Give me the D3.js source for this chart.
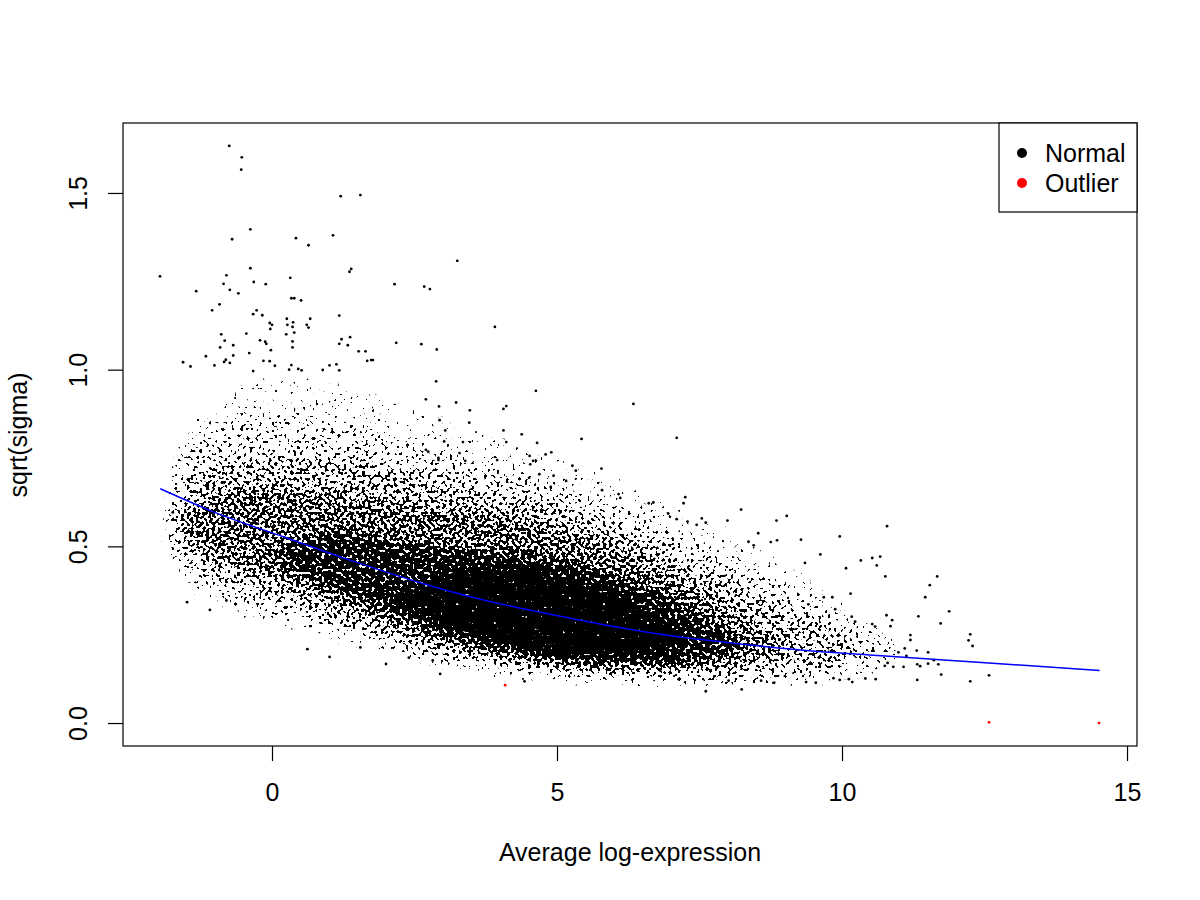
<!DOCTYPE html>
<html lang="en">
<head>
    <meta charset="UTF-8"/>
    <title>sqrt(sigma) vs Average log-expression</title>
    <script src="https://d3js.org/d3.v7.min.js"></script>
    <style>
        body { margin: 0; background: #fff; }
        text { font-family: "Liberation Sans", Arial, Helvetica, sans-serif; fill: #000; font-size: 25px; }
    </style>
</head>
<body>
<script>
    var w = 1200;
    var h = 900;

    // tick values / labels
    var xTicks = [0, 5, 10, 15];
    var yTicks = [0, 0.5, 1, 1.5];
    var yTickLabels = ["0.0", "0.5", "1.0", "1.5"];

    // legend
    var legendLabels = ["Normal", "Outlier"];
    var legendColors = ["#000000", "#ff0000"];

    // fitted trend (blue)
    var trendX = [-1.96, -0.97, 0.20, 1.37, 2.54, 3.71, 4.88, 5.87, 7.04, 8.21, 9.38, 10.55, 11.72, 12.77, 14.52];
    var trendY = [0.663, 0.594, 0.527, 0.461, 0.400, 0.348, 0.308, 0.277, 0.246, 0.224, 0.205, 0.192, 0.179, 0.168, 0.149];

    // outliers (red)
    var outlierX = [4.09, 12.58, 14.51];
    var outlierY = [0.107, 0.002, 0.0];

    // dense cloud read as nested density bands: [x, low, high]
    var band0 = [[-1.9,0.52,0.60],[-1.6,0.38,0.86],[-0.39,0.29,0.98],[0.78,0.26,0.98],[1.95,0.19,0.92],[3.12,0.15,0.85],[4.30,0.125,0.80],[5.88,0.11,0.70],[7.04,0.105,0.62],[8.21,0.105,0.52],[9.39,0.115,0.42],[10.3,0.13,0.32],[11.0,0.17,0.22]];
    var band1 = [[-1.8,0.53,0.60],[-1.56,0.41,0.80],[-0.39,0.31,0.87],[0.78,0.29,0.87],[1.95,0.215,0.82],[3.12,0.17,0.74],[4.30,0.142,0.71],[5.88,0.122,0.62],[7.04,0.122,0.55],[8.21,0.115,0.45],[9.39,0.125,0.35],[10.4,0.15,0.26],[11.0,0.19,0.20]];
    var band2 = [[-1.7,0.55,0.58],[-1.4,0.44,0.73],[-0.39,0.368,0.75],[0.78,0.311,0.75],[1.95,0.255,0.73],[3.12,0.19,0.68],[4.30,0.165,0.66],[5.88,0.145,0.56],[7.04,0.14,0.49],[8.21,0.14,0.38],[9.39,0.155,0.29],[10.2,0.19,0.22]];
    var band3 = [[-1.6,0.56,0.58],[-1.2,0.49,0.64],[-0.39,0.442,0.67],[0.78,0.357,0.65],[1.95,0.292,0.63],[3.12,0.215,0.60],[4.30,0.18,0.59],[5.88,0.155,0.50],[7.04,0.15,0.43],[8.21,0.165,0.30],[8.9,0.21,0.23]];
    var band4 = [[0.0,0.47,0.47],[0.78,0.40,0.55],[1.95,0.32,0.52],[3.12,0.235,0.49],[4.30,0.19,0.49],[5.0,0.17,0.46],[5.88,0.16,0.43],[7.04,0.165,0.35],[7.8,0.19,0.27],[8.3,0.22,0.22]];
    var band5 = [[2.0,0.36,0.36],[3.12,0.25,0.44],[4.30,0.21,0.45],[5.0,0.19,0.42],[5.88,0.18,0.39],[6.8,0.19,0.31],[7.4,0.24,0.24]];
    var bandDensity = [0.04, 0.12, 0.3, 0.55, 0.88, 1.0];

    // individual points outside the dense cloud: [x, y]
    var normalPts = [
        [-0.75,1.633],[-0.53,1.601],[-0.54,1.566],[1.205,1.491],[1.55,1.494],[-0.38,1.397],[-0.70,1.369],[0.42,1.372],[0.64,1.352],[1.07,1.380],
        [-0.38,1.287],[-1.965,1.264],[-1.33,1.222],[-0.80,1.267],[-0.85,1.243],[-0.74,1.226],[-0.59,1.216],[-0.32,1.248],[-0.11,1.242],[0.32,1.26],
        [1.39,1.285],[1.36,1.277],[2.15,1.242],[0.34,1.202],[0.39,1.202],[0.51,1.196],[-0.92,1.185],[-1.05,1.168],[-0.27,1.168],[-0.33,1.157],
        [-0.17,1.154],[0.26,1.144],[0.37,1.134],[0.67,1.144],[1.18,1.153],[-0.04,1.132],[0.0,1.127],[-0.03,1.115],[0.27,1.127],[0.36,1.121],
        [0.61,1.127],[0.64,1.119],[0.25,1.10],[0.39,1.105],[-0.89,1.10],[-0.45,1.102],[-0.83,1.082],[-0.68,1.069],[-0.91,1.063],[-0.21,1.083],
        [-0.12,1.079],[-0.10,1.073],[-0.02,1.055],[0.36,1.08],[0.36,1.063],[1.22,1.086],[1.18,1.073],[1.37,1.092],[1.33,1.069],[2.18,1.076],
        [2.62,1.072],[-1.16,1.038],[-1.56,1.021],[-1.43,1.009],[-1.01,1.012],[-0.84,1.022],[-0.81,1.028],[-0.74,1.019],[-0.68,1.04],[-0.40,1.047],
        [-0.33,0.996],[-0.15,1.025],[-0.04,1.024],[0.05,1.011],[0.34,1.013],[0.30,1.0],[0.46,1.002],[0.52,0.998],[0.89,0.999],[1.01,1.012],
        [1.13,1.015],[1.18,0.998],[1.52,1.052],[1.64,1.052],[1.67,1.025],[1.74,1.027],[1.77,1.027],
        [3.25,1.308],[2.67,1.235],[2.77,1.228],[3.91,1.121],[2.89,1.057],[2.88,0.967],
        [4.63,0.94],[2.70,0.916],[3.23,0.907],[2.93,0.896],[3.47,0.885],[6.34,0.903],[4.11,0.897],[4.06,0.889],[2.94,0.857],[3.46,0.85],
        [3.04,0.828],[4.06,0.828],[4.38,0.817],[5.43,0.804],[7.10,0.807],[3.02,0.797],[3.35,0.795],[4.11,0.795],[4.65,0.793],[2.70,0.773],
        [2.74,0.768],[3.29,0.764],[2.92,0.75],[2.92,0.744],[4.90,0.766],[4.80,0.76],[4.52,0.756],[4.53,0.732],[4.58,0.742],[4.63,0.742],
        [3.95,0.744],[3.39,0.742],[5.78,0.72],[5.27,0.728],[5.33,0.714],[5.79,0.659],[4.94,0.70],[5.16,0.685],[4.69,0.704],[4.51,0.694],
        [4.89,0.668],[6.08,0.648],[6.11,0.637],[7.25,0.639],[7.22,0.622],[6.61,0.622],[6.69,0.624],[6.95,0.593],[7.54,0.579],[7.10,0.577],
        [7.29,0.57],[7.61,0.567],[7.45,0.561],
        [8.23,0.604],[9.03,0.586],[8.85,0.573],[7.99,0.573],[10.79,0.557],[8.53,0.537],[9.96,0.528],[9.28,0.519],[8.75,0.512],[8.86,0.517],
        [8.36,0.513],[8.45,0.503],[9.62,0.477],[10.67,0.471],[10.53,0.467],[10.33,0.46],[10.61,0.446],[10.07,0.438],[9.35,0.453],[10.76,0.415],
        [11.67,0.415],[11.54,0.39],[11.46,0.356],[10.15,0.366],[9.68,0.356],[9.83,0.356],[9.88,0.322],[9.41,0.336],[11.88,0.316],[11.34,0.302],
        [11.73,0.282],[10.78,0.305],[10.88,0.291],[10.85,0.274],[10.17,0.301],[10.23,0.287],[10.53,0.28],[10.58,0.273],[12.25,0.251],[12.22,0.234],
        [12.29,0.218],[11.20,0.249],[11.20,0.235],[11.31,0.205],[11.51,0.20],[11.10,0.211],[11.13,0.19],[10.99,0.20],[11.08,0.159],[11.61,0.178],
        [11.69,0.166],[11.32,0.166],[11.37,0.161],[11.51,0.168],[11.74,0.137],[11.32,0.122],[12.25,0.118],[12.58,0.135],[10.59,0.124],[10.41,0.126],
        [10.18,0.116],[10.12,0.124],[10.75,0.162],[10.90,0.159],[10.80,0.17],[9.96,0.122],[9.85,0.127],[9.54,0.114],[9.37,0.116],[8.81,0.114],
        [8.58,0.12],[8.24,0.095],[7.61,0.09],[8.01,0.12],
        [-1.49,0.342],[-1.09,0.32],[-0.80,0.347],[0.62,0.209],[1.01,0.187],[1.55,0.214],[2.0,0.167],[2.40,0.185],[2.95,0.139],[2.82,0.177],
        [4.43,0.118],[-1.74,0.596]
    ];

    var xScale = d3.scaleLinear().domain([-2.614, 15.175]).range([123, 1137]);
    var yScale = d3.scaleLinear().domain([-0.065, 1.698]).range([746, 123]);

    var svg = d3.select("body")
        .append("svg")
        .attr("width", w)
        .attr("height", h);

    svg.append("rect").attr("width", w).attr("height", h).attr("fill", "#fff");

    var defs = svg.append("defs");

    defs.append("clipPath").attr("id", "plotclip")
        .append("rect").attr("x", 123).attr("y", 123).attr("width", 1014).attr("height", 623);

    // stipple filter: turns the grey density map into dots
    // (noise is flattened to roughly uniform with a normal-cdf table)
    var flatten = "0 0 0 0 0.001 0.006 0.023 0.067 0.159 0.309 0.5 0.691 0.841 0.933 0.977 0.994 0.999 1 1 1 1";
    var f = defs.append("filter")
        .attr("id", "stipple")
        .attr("filterUnits", "userSpaceOnUse")
        .attr("x", 123).attr("y", 123).attr("width", 1014).attr("height", 623)
        .attr("color-interpolation-filters", "sRGB");
    f.append("feGaussianBlur").attr("in", "SourceGraphic").attr("stdDeviation", 5).attr("result", "dens");
    f.append("feTurbulence").attr("type", "fractalNoise").attr("baseFrequency", 0.32)
        .attr("numOctaves", 1).attr("seed", 7).attr("result", "noise");
    f.append("feColorMatrix").attr("in", "noise").attr("type", "matrix")
        .attr("values", "1 0 0 0 0  1 0 0 0 0  1 0 0 0 0  0 0 0 0 1").attr("result", "noiseR");
    var st = f.append("feComponentTransfer").attr("in", "noiseR").attr("result", "noiseS");
    ["feFuncR", "feFuncG", "feFuncB"].forEach(function(fn) {
        st.append(fn).attr("type", "table").attr("tableValues", flatten);
    });
    f.append("feComposite").attr("in", "dens").attr("in2", "noiseS").attr("operator", "arithmetic")
        .attr("k1", 0).attr("k2", 1).attr("k3", -1).attr("k4", 1).attr("result", "diff");
    var th = f.append("feComponentTransfer").attr("in", "diff").attr("result", "bin");
    ["feFuncR", "feFuncG", "feFuncB"].forEach(function(fn) {
        th.append(fn).attr("type", "linear").attr("slope", 60).attr("intercept", -59);
    });
    f.append("feColorMatrix").attr("in", "bin").attr("type", "matrix")
        .attr("values", "0 0 0 0 0  0 0 0 0 0  0 0 0 0 0  -1 0 0 0 1");

    var plot = svg.append("g").attr("clip-path", "url(#plotclip)");

    // density bands (grey map, filtered into stipple)
    var band = d3.area()
        .x(d => xScale(d[0]))
        .y0(d => yScale(d[1]))
        .y1(d => yScale(d[2]))
        .curve(d3.curveBasis);

    var cloud = plot.append("g").attr("filter", "url(#stipple)");
    cloud.append("rect")
        .attr("x", 123).attr("y", 123).attr("width", 1014).attr("height", 623)
        .attr("fill", "#fff");
    [band0, band1, band2, band3, band4, band5].forEach(function(b, i) {
        var g = Math.round(255 * (1 - bandDensity[i]));
        cloud.append("path")
            .datum(b)
            .attr("d", band)
            .attr("fill", "rgb(" + g + "," + g + "," + g + ")");
    });

    // scattered points
    plot.selectAll("circle.pt")
        .data(normalPts)
        .enter().append("circle")
        .attr("class", "pt")
        .attr("cx", d => xScale(d[0]))
        .attr("cy", d => yScale(d[1]))
        .attr("r", 1.4)
        .attr("fill", "#000");

    // trend line
    var trend = trendX.map((x, i) => [x, trendY[i]]);
    plot.append("path")
        .datum(trend)
        .attr("d", d3.line().x(d => xScale(d[0])).y(d => yScale(d[1])).curve(d3.curveMonotoneX))
        .attr("fill", "none")
        .attr("stroke", "#0000ff")
        .attr("stroke-width", 1.5);

    // outliers
    plot.selectAll("circle.out")
        .data(outlierX.map((x, i) => [x, outlierY[i]]))
        .enter().append("circle")
        .attr("class", "out")
        .attr("cx", d => xScale(d[0]))
        .attr("cy", d => yScale(d[1]))
        .attr("r", 1.4)
        .attr("fill", "#ff0000");

    // axes
    var xAxis = svg.append("g")
        .attr("transform", "translate(0,746)")
        .call(d3.axisBottom(xScale).tickValues(xTicks).tickSize(15).tickSizeOuter(0));
    xAxis.select(".domain").remove();
    xAxis.selectAll("text")
        .attr("dy", null)
        .attr("y", 55);

    var yAxis = svg.append("g")
        .attr("transform", "translate(123,0)")
        .call(d3.axisLeft(yScale).tickValues(yTicks).tickFormat((d, i) => yTickLabels[i]).tickSize(15).tickSizeOuter(0));
    yAxis.select(".domain").remove();
    yAxis.selectAll(".tick text")
        .attr("x", null)
        .attr("dy", null)
        .attr("transform", "translate(-36,0) rotate(-90)")
        .attr("text-anchor", "middle");
    svg.selectAll("g.tick text").attr("font-size", null).attr("font-family", null);
    svg.selectAll(".tick line").attr("stroke", "#000").attr("stroke-width", 1.2);

    // plot box
    svg.append("rect")
        .attr("x", 123).attr("y", 123)
        .attr("width", 1014).attr("height", 623)
        .attr("fill", "none")
        .attr("stroke", "#000")
        .attr("stroke-width", 1.2);

    // axis titles
    svg.append("text")
        .attr("x", 630).attr("y", 861)
        .attr("text-anchor", "middle")
        .text("Average log-expression");

    svg.append("text")
        .attr("transform", "translate(27,435) rotate(-90)")
        .attr("text-anchor", "middle")
        .text("sqrt(sigma)");

    // legend
    svg.append("rect")
        .attr("x", 999).attr("y", 123)
        .attr("width", 138).attr("height", 89)
        .attr("fill", "#fff")
        .attr("stroke", "#000")
        .attr("stroke-width", 1.2);

    var legend = svg.selectAll(".legend")
        .data(legendLabels)
        .enter().append("g")
        .attr("class", "legend")
        .attr("transform", (d, i) => "translate(0," + (153 + i * 30) + ")");

    legend.append("circle")
        .attr("cx", 1022)
        .attr("r", 5)
        .attr("fill", (d, i) => legendColors[i]);

    legend.append("text")
        .attr("x", 1045)
        .attr("y", 9)
        .text(d => d);
</script>
</body>
</html>
